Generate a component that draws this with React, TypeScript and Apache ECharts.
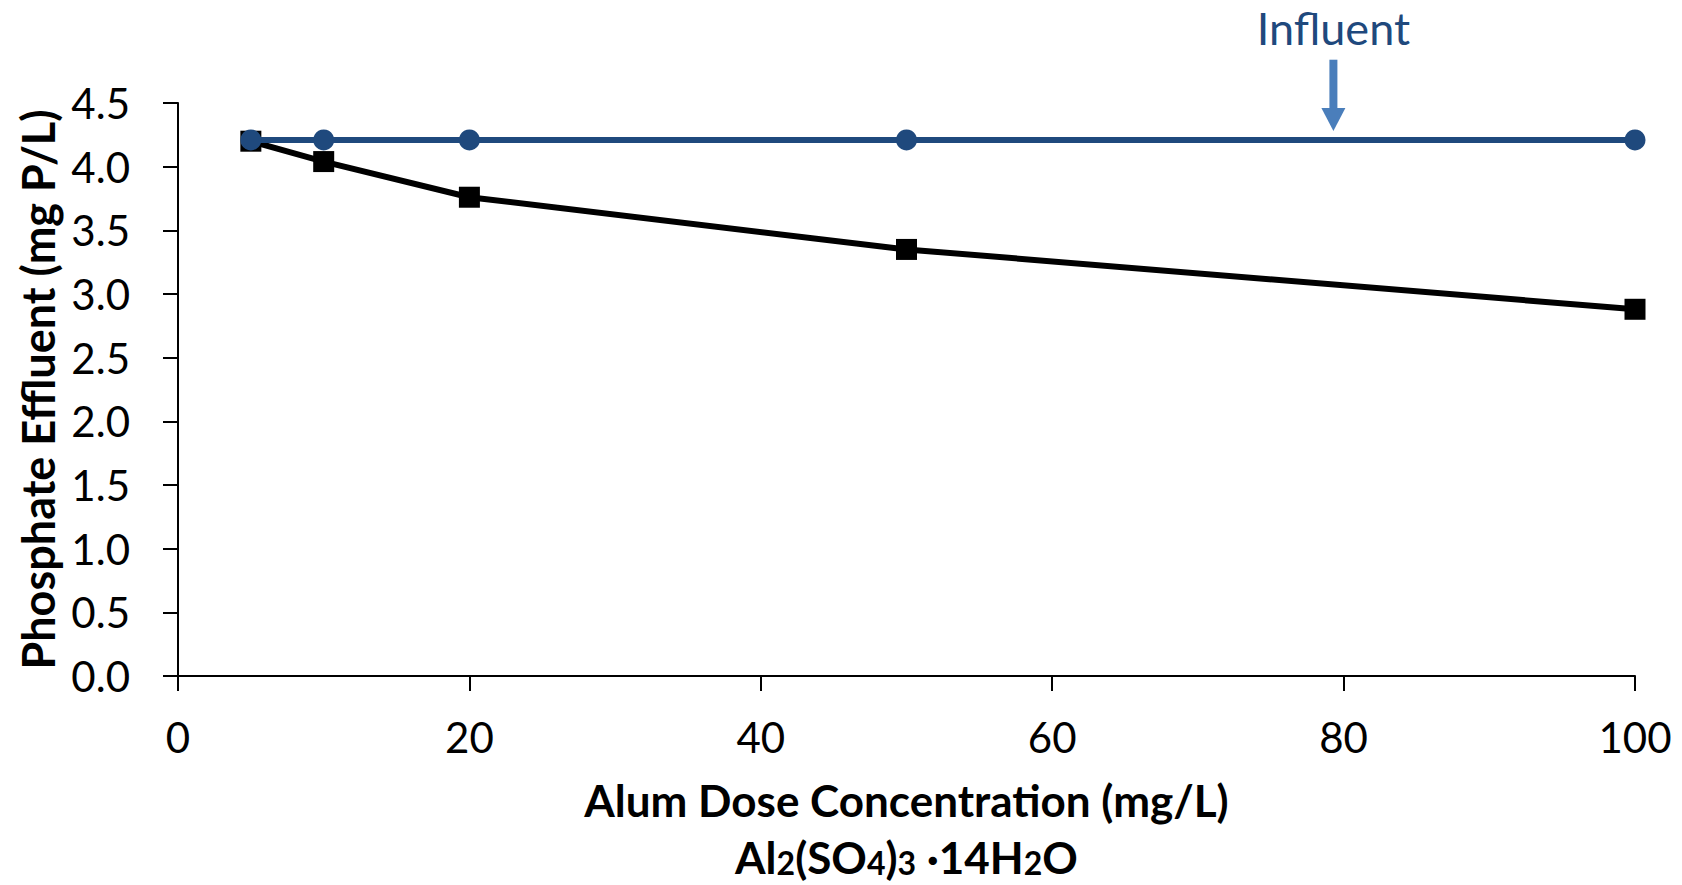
import React, { useEffect, useRef } from "react";
import * as echarts from "echarts";

// Alum dose (mg/L)
const doses = [5, 10, 20, 50, 100];
// Phosphate (mg P/L)
const influent = [4.21, 4.21, 4.21, 4.21, 4.21];
const effluent = [4.2, 4.04, 3.76, 3.35, 2.88];
const xTickInterval = 20;
const yTickInterval = 0.5;
// annotation, in data units
const annotationLabel = "Influent";
const annotationX = 79.3;
const arrowTipY = 4.28;
const arrowTailY = 4.84;
const annotationTextY = 5.09;

const FONT = "Lato";

export default function App() {
  const ref = useRef<HTMLDivElement>(null);
  useEffect(() => {
    document.body.style.margin = "0";
    const chart = echarts.init(ref.current!, null, { renderer: "svg" });
    chart.setOption({
      animation: false,
      backgroundColor: "#ffffff",
      grid: { left: 178, right: 47, top: 103, bottom: 209, outerBoundsMode: "none", containLabel: false },
      xAxis: {
        type: "value",
        min: 0,
        max: 100,
        interval: xTickInterval,
        axisLine: { show: true, onZero: false, lineStyle: { color: "#000", width: 2 } },
        axisTick: { show: true, length: 15, lineStyle: { color: "#000", width: 2 } },
        axisLabel: { fontFamily: FONT, fontSize: 42, color: "#000", margin: 40 },
        splitLine: { show: false },
        name:
          "{a|Alum Dose Concentration (mg/L)}\n{t|Al}{s|2}{t|(SO}{s|4}{t|)}{s|3}{t| ·14H}{s|2}{t|O}",
        nameLocation: "middle",
        nameGap: 89,
        nameTextStyle: {
          rich: {
            a: { fontFamily: FONT, fontWeight: "bold", fontSize: 44, lineHeight: 70, color: "#000" },
            t: { fontFamily: FONT, fontWeight: "bold", fontSize: 44, lineHeight: 44, color: "#000" },
            s: {
              fontFamily: FONT,
              fontWeight: "bold",
              fontSize: 32,
              lineHeight: 44,
              padding: [11, 0, 0, 0],
              color: "#000",
            },
          },
        },
      },
      yAxis: {
        type: "value",
        min: 0,
        max: 4.5,
        interval: yTickInterval,
        axisLine: { show: true, lineStyle: { color: "#000", width: 2 } },
        axisTick: { show: true, length: 15, lineStyle: { color: "#000", width: 2 } },
        axisLabel: {
          fontFamily: FONT,
          fontSize: 42,
          color: "#000",
          margin: 48,
          formatter: (v: number) => v.toFixed(1),
        },
        splitLine: { show: false },
        name: "Phosphate Effluent (mg P/L)",
        nameLocation: "middle",
        nameRotate: 90,
        nameGap: 118,
        nameTextStyle: { fontFamily: FONT, fontWeight: "bold", fontSize: 45, color: "#000" },
      },
      series: [
        {
          name: "Effluent",
          type: "line",
          data: doses.map((d, i) => [d, effluent[i]]),
          symbol: "rect",
          symbolSize: 21,
          lineStyle: { color: "#000", width: 6 },
          itemStyle: { color: "#000" },
          z: 2,
        },
        {
          name: "Influent",
          type: "line",
          data: doses.map((d, i) => [d, influent[i]]),
          symbol: "circle",
          symbolSize: 21,
          lineStyle: { color: "#1F497D", width: 6 },
          itemStyle: { color: "#1F497D" },
          z: 3,
        },
      ],
    });

    const tip = chart.convertToPixel({ gridIndex: 0 }, [annotationX, arrowTipY]) as number[];
    const tail = chart.convertToPixel({ gridIndex: 0 }, [annotationX, arrowTailY]) as number[];
    const txt = chart.convertToPixel({ gridIndex: 0 }, [annotationX, annotationTextY]) as number[];
    const headH = 23;
    const headW = 24;
    const shaftW = 8;
    chart.setOption({
      graphic: [
        {
          type: "rect",
          shape: { x: tail[0] - shaftW / 2, y: tail[1], width: shaftW, height: tip[1] - headH - tail[1] + 1 },
          style: { fill: "#4A7EBB" },
        },
        {
          type: "polygon",
          shape: {
            points: [
              [tip[0] - headW / 2, tip[1] - headH],
              [tip[0] + headW / 2, tip[1] - headH],
              [tip[0], tip[1]],
            ],
          },
          style: { fill: "#4A7EBB" },
        },
        {
          type: "text",
          x: txt[0],
          y: txt[1],
          style: {
            text: annotationLabel,
            fill: "#1F497D",
            font: `45px ${FONT}`,
            textAlign: "center",
            textVerticalAlign: "middle",
          },
        },
      ],
    });

    return () => chart.dispose();
  }, []);
  return <div ref={ref} style={{ width: 1682, height: 885 }} />;
}
